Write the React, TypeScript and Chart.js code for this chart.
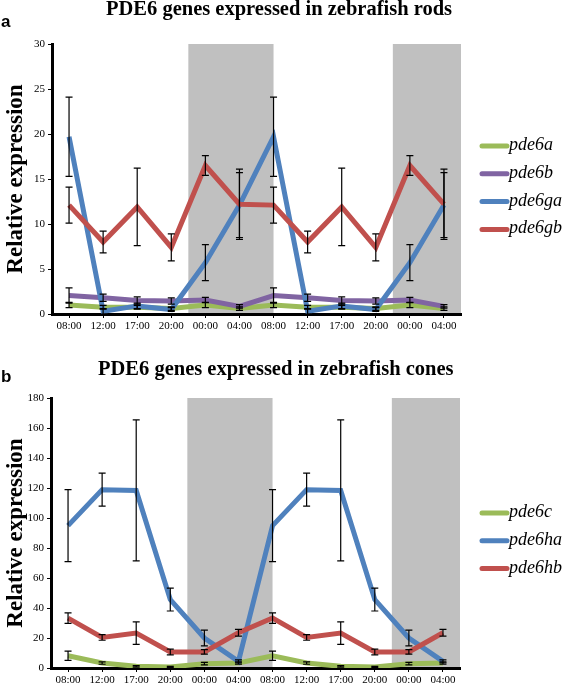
import React, { useEffect, useRef } from 'react';
import { Chart, registerables } from 'chart.js';

Chart.register(...registerables);

const SERIF = "'Liberation Serif', 'Times New Roman', serif";
const SANS = "'Liberation Sans', Arial, sans-serif";

const timeLabels = ['08:00', '12:00', '17:00', '20:00', '00:00', '04:00', '08:00', '12:00', '17:00', '20:00', '00:00', '04:00'];
// dark periods, in category index units
const nightBands = [[3.5, 6], [9.5, 11.5]];

// Panel a: rods
const rodTicks = [0, 5, 10, 15, 20, 25, 30];
const pde6a = [1.0, 0.75, 0.75, 0.6, 1.0, 0.6, 1.0, 0.75, 0.75, 0.6, 1.0, 0.6];
const pde6aErr = [0.3, 0.2, 0.2, 0.2, 0.3, 0.2, 0.3, 0.2, 0.2, 0.2, 0.3, 0.2];
const pde6b = [2.05, 1.8, 1.5, 1.45, 1.55, 0.85, 2.05, 1.8, 1.5, 1.45, 1.55, 0.85];
const pde6bErr = [0.85, 0.4, 0.4, 0.35, 0.3, 0.2, 0.85, 0.4, 0.4, 0.35, 0.3, 0.2];
const pde6ga = [19.7, 0.3, 0.9, 0.5, 5.7, 12.1, 19.7, 0.3, 0.9, 0.5, 5.7, 12.1];
const pde6gaErr = [4.4, 0.3, 0.3, 0.2, 2.0, 3.6, 4.4, 0.3, 0.3, 0.2, 2.0, 3.6];
const pde6gb = [12.1, 8.0, 11.9, 7.4, 16.5, 12.2, 12.1, 8.0, 11.9, 7.4, 16.5, 12.2];
const pde6gbErr = [2.0, 1.2, 4.3, 1.5, 1.1, 3.9, 2.0, 1.2, 4.3, 1.5, 1.1, 3.9];

// Panel b: cones
const coneTicks = [0, 20, 40, 60, 80, 100, 120, 140, 160, 180];
const pde6c = [8.2, 3.3, 1.1, 0.7, 2.9, 3.3, 8.2, 3.3, 1.1, 0.7, 2.9, 3.3];
const pde6cErr = [3.1, 0.8, 0.5, 0.4, 0.8, 0.8, 3.1, 0.8, 0.5, 0.4, 0.8, 0.8];
const pde6ha = [94.9, 118.9, 118.4, 45.6, 20.0, 4.4, 94.9, 118.9, 118.4, 45.6, 20.0, 4.4];
const pde6haErr = [24, 11, 47, 7.6, 5.3, 1.0, 24, 11, 47, 7.6, 5.3, 1.0];
const pde6hb = [33.3, 20.4, 23.3, 10.7, 10.7, 23.5, 33.3, 20.4, 23.3, 10.7, 10.7, 23.5];
const pde6hbErr = [3.5, 1.9, 7.5, 1.9, 1.5, 2.2, 3.5, 1.9, 7.5, 1.9, 1.5, 2.2];

const GREEN = '#9bbb59';
const PURPLE = '#8064a2';
const BLUE = '#4f81bd';
const RED = '#c0504d';

type Series = { name: string; data: number[]; err: number[]; color: string };

const rodSeries: Series[] = [
  { name: 'pde6a', data: pde6a, err: pde6aErr, color: GREEN },
  { name: 'pde6b', data: pde6b, err: pde6bErr, color: PURPLE },
  { name: 'pde6ga', data: pde6ga, err: pde6gaErr, color: BLUE },
  { name: 'pde6gb', data: pde6gb, err: pde6gbErr, color: RED },
];
const coneSeries: Series[] = [
  { name: 'pde6c', data: pde6c, err: pde6cErr, color: GREEN },
  { name: 'pde6ha', data: pde6ha, err: pde6haErr, color: BLUE },
  { name: 'pde6hb', data: pde6hb, err: pde6hbErr, color: RED },
];

type PanelCfg = {
  series: Series[];
  ticks: number[];
  title: string;
  titleX: number;
  titleBaseline: number;
  letter: string;
  letterBaseline: number;
  padTop: number;
  xHeight: number;
  yWidth: number;
  padRight: number;
  legendTop: number;
};

function buildChart(canvas: HTMLCanvasElement, cfg: PanelCfg) {
  const n = cfg.series.length;
  const overlay = {
    id: 'overlay',
    beforeDraw(chart: any) {
      const { ctx, chartArea } = chart;
      const x = chart.scales.x;
      ctx.save();
      ctx.fillStyle = '#c0c0c0';
      for (const [a, b] of nightBands) {
        const x0 = x.getPixelForValue(a);
        const x1 = x.getPixelForValue(b);
        ctx.fillRect(x0, chartArea.top, x1 - x0, chartArea.bottom - chartArea.top);
      }
      ctx.restore();
    },
    afterDatasetsDraw(chart: any) {
      const { ctx } = chart;
      const x = chart.scales.x;
      const y = chart.scales.y;
      ctx.save();
      ctx.strokeStyle = '#000';
      ctx.lineWidth = 1.2;
      for (const s of cfg.series) {
        s.data.forEach((v, i) => {
          const e = s.err[i];
          if (!e) return;
          const px = x.getPixelForValue(i);
          const yt = y.getPixelForValue(v + e);
          const yb = y.getPixelForValue(Math.max(0, v - e));
          ctx.beginPath();
          ctx.moveTo(px, yt);
          ctx.lineTo(px, yb);
          ctx.moveTo(px - 3.5, yt);
          ctx.lineTo(px + 3.5, yt);
          ctx.moveTo(px - 3.5, yb);
          ctx.lineTo(px + 3.5, yb);
          ctx.stroke();
        });
      }
      ctx.restore();
    },
    afterDraw(chart: any) {
      const { ctx } = chart;
      ctx.save();
      ctx.fillStyle = '#000';
      ctx.font = `bold 20.5px ${SERIF}`;
      ctx.textAlign = 'left';
      ctx.textBaseline = 'alphabetic';
      ctx.fillText(cfg.title, cfg.titleX, cfg.titleBaseline);
      ctx.font = `bold 17px ${SANS}`;
      ctx.fillText(cfg.letter, 1, cfg.letterBaseline);
      // legend
      cfg.series.forEach((s, i) => {
        const cy = cfg.legendTop + i * 27.8;
        ctx.strokeStyle = s.color;
        ctx.lineWidth = 5;
        ctx.lineCap = 'round';
        ctx.beginPath();
        ctx.moveTo(482, cy);
        ctx.lineTo(507, cy);
        ctx.stroke();
        ctx.fillStyle = '#000';
        ctx.font = `italic 18px ${SERIF}`;
        ctx.fillText(s.name, 509, cy + 4);
      });
      ctx.restore();
    },
  };

  return new Chart(canvas, {
    type: 'line',
    data: {
      labels: timeLabels,
      datasets: cfg.series.map((s, i) => ({
        label: s.name,
        data: s.data,
        borderColor: s.color,
        backgroundColor: s.color,
        borderWidth: 5,
        pointRadius: 0,
        tension: 0,
        fill: false,
        order: n - i,
      })),
    },
    options: {
      responsive: false,
      animation: false,
      layout: { padding: { top: cfg.padTop, right: cfg.padRight, left: 0, bottom: 0 } },
      plugins: { legend: { display: false }, title: { display: false }, tooltip: { enabled: false } },
      scales: {
        x: {
          offset: true,
          grid: { display: true, offset: false, drawOnChartArea: false, tickLength: 4, tickColor: '#000', tickWidth: 1 },
          border: { display: true, color: '#000', width: 3 },
          ticks: { color: '#000', font: { family: SERIF, size: 11 }, padding: 2, maxRotation: 0, autoSkip: false },
          afterFit: (scale: any) => {
            scale.height = cfg.xHeight;
          },
        },
        y: {
          min: cfg.ticks[0],
          max: cfg.ticks[cfg.ticks.length - 1],
          afterBuildTicks: (scale: any) => {
            scale.ticks = cfg.ticks.map((v) => ({ value: v }));
          },
          grid: { display: true, drawOnChartArea: false, tickLength: 4, tickColor: '#000', tickWidth: 1 },
          border: { display: true, color: '#000', width: 3 },
          ticks: { color: '#000', font: { family: SERIF, size: 11 }, padding: 3 },
          title: {
            display: true,
            text: 'Relative expression',
            color: '#000',
            font: { family: SERIF, size: 23, weight: 'bold' },
            padding: { top: 2, bottom: 0 },
          },
          afterFit: (scale: any) => {
            scale.width = cfg.yWidth;
          },
        },
      },
    } as any,
    plugins: [overlay],
  });
}

export default function App() {
  const topRef = useRef<HTMLCanvasElement>(null);
  const botRef = useRef<HTMLCanvasElement>(null);

  useEffect(() => {
    const c1 = buildChart(topRef.current!, {
      series: rodSeries,
      ticks: rodTicks,
      title: 'PDE6 genes expressed in zebrafish rods',
      titleX: 106,
      titleBaseline: 15,
      letter: 'a',
      letterBaseline: 27,
      padTop: 44,
      xHeight: 29,
      yWidth: 52,
      padRight: 102,
      legendTop: 146,
    });
    const c2 = buildChart(botRef.current!, {
      series: coneSeries,
      ticks: coneTicks,
      title: 'PDE6 genes expressed in zebrafish cones',
      titleX: 98,
      titleBaseline: 32,
      letter: 'b',
      letterBaseline: 39,
      padTop: 55,
      xHeight: 18,
      yWidth: 51,
      padRight: 103,
      legendTop: 170,
    });
    return () => {
      c1.destroy();
      c2.destroy();
    };
  }, []);

  return (
    <div style={{ position: 'fixed', left: 0, top: 0, width: 563, height: 686, background: '#fff' }}>
      <canvas ref={topRef} width={563} height={343} style={{ position: 'absolute', left: 0, top: 0, display: 'block' }} />
      <canvas ref={botRef} width={563} height={343} style={{ position: 'absolute', left: 0, top: 343, display: 'block' }} />
    </div>
  );
}
